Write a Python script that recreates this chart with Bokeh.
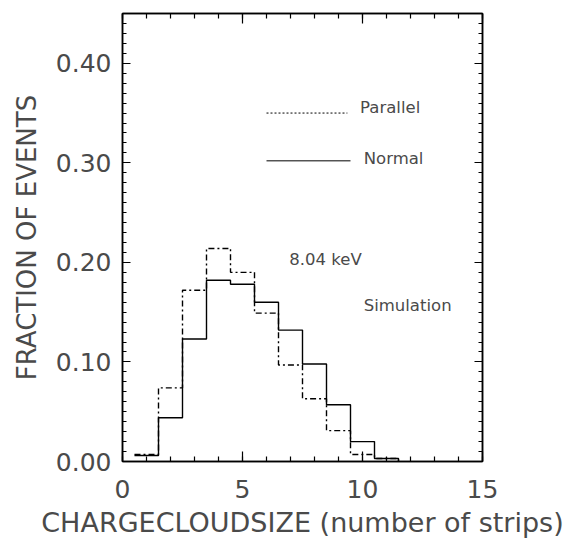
from bokeh.plotting import figure
from bokeh.models import (LinearAxis, SingleIntervalTicker, PrintfTickFormatter,
                          CustomJSTickFormatter, Range1d, ColumnDataSource)
from bokeh.embed import file_html
from bokeh.resources import INLINE
from bokeh.core.properties import value

# ---- data ----
bin_centers = [1, 2, 3, 4, 5, 6, 7, 8, 9, 10, 11]
normal   = [0.006, 0.044, 0.123, 0.182, 0.178, 0.160, 0.132, 0.098, 0.057, 0.020, 0.003]
parallel = [0.007, 0.074, 0.172, 0.214, 0.190, 0.149, 0.097, 0.063, 0.031, 0.007, 0.003]
x_ticks = [0, 5, 10, 15]
y_ticks = [0.0, 0.1, 0.2, 0.3, 0.4]

FONT = "DejaVu Sans"
TXT = "#4a4a4a"

p = figure(width=567, height=542, output_backend="svg", toolbar_location=None,
           x_range=Range1d(0, 15), y_range=Range1d(0, 0.45),
           frame_width=360, frame_height=448,
           min_border_left=122, min_border_right=85,
           min_border_top=13, min_border_bottom=81,
           x_axis_label="CHARGECLOUDSIZE (number of strips)",
           y_axis_label="FRACTION OF EVENTS")
p.grid.visible = False
p.outline_line_color = "black"
p.outline_line_width = 1.5
p.background_fill_color = "white"
p.border_fill_color = "white"

def stairs(vals):
    edges = [c - 0.5 for c in bin_centers] + [bin_centers[-1] + 0.5]
    ys = list(vals) + [0.0]
    return edges, ys

xs, ys = stairs(parallel)
p.step(xs, ys, mode="after", line_color="black", line_width=1.4, line_dash="6 3 2 3")
xs, ys = stairs(normal)
p.step(xs, ys, mode="after", line_color="black", line_width=1.4)

xa = p.xaxis[0]
xa.ticker = SingleIntervalTicker(interval=5, num_minor_ticks=5)
ya = p.yaxis[0]
ya.ticker = SingleIntervalTicker(interval=0.1, num_minor_ticks=10)
ya.formatter = PrintfTickFormatter(format="%.2f")

def style(ax, major_len, minor_len):
    ax.axis_line_color = "black"
    ax.axis_line_width = 1.5
    ax.major_tick_in = major_len
    ax.major_tick_out = 0
    ax.minor_tick_in = minor_len
    ax.minor_tick_out = 0
    ax.major_tick_line_color = "black"
    ax.minor_tick_line_color = "black"
    ax.major_tick_line_width = 1.2
    ax.minor_tick_line_width = 1.2
    ax.major_label_text_font = FONT
    ax.major_label_text_color = TXT
    ax.axis_label_text_font = FONT
    ax.axis_label_text_color = TXT
    ax.axis_label_text_font_style = "normal"

style(xa, 10, 5)
style(ya, 8, 4)
xa.major_label_text_font_size = "25px"
xa.major_label_standoff = 18
xa.axis_label_text_font_size = "27px"
xa.axis_label_standoff = 6
ya.major_label_text_font_size = "25px"
ya.major_label_standoff = 11
ya.axis_label_text_font_size = "26px"
ya.axis_label_standoff = 11

top = LinearAxis(ticker=SingleIntervalTicker(interval=5, num_minor_ticks=5),
                 formatter=CustomJSTickFormatter(code="return ''"))
right = LinearAxis(ticker=SingleIntervalTicker(interval=0.1, num_minor_ticks=10),
                   formatter=CustomJSTickFormatter(code="return ''"))
for ax, a, b in ((top, 10, 5), (right, 8, 4)):
    style(ax, a, b)
    ax.major_label_standoff = 0
p.add_layout(top, "above")
p.add_layout(right, "right")

# legend-like annotations
p.line([6.0, 9.37], [0.35, 0.35], line_color="black", line_width=1, line_dash="2 2")
p.line([6.0, 9.5], [0.302, 0.302], line_color="black", line_width=1)
src = ColumnDataSource(dict(x=[9.9, 10.05, 6.95, 10.05],
                            y=[0.3555, 0.3045, 0.2024, 0.157],
                            t=["Parallel", "Normal", "8.04 keV", "Simulation"]))
p.text(x="x", y="y", text="t", source=src, text_font=value(FONT),
       text_font_size="16.5px", text_color=TXT, text_align="left",
       text_baseline="middle")

open("out.html", "w").write(file_html(p, INLINE))
